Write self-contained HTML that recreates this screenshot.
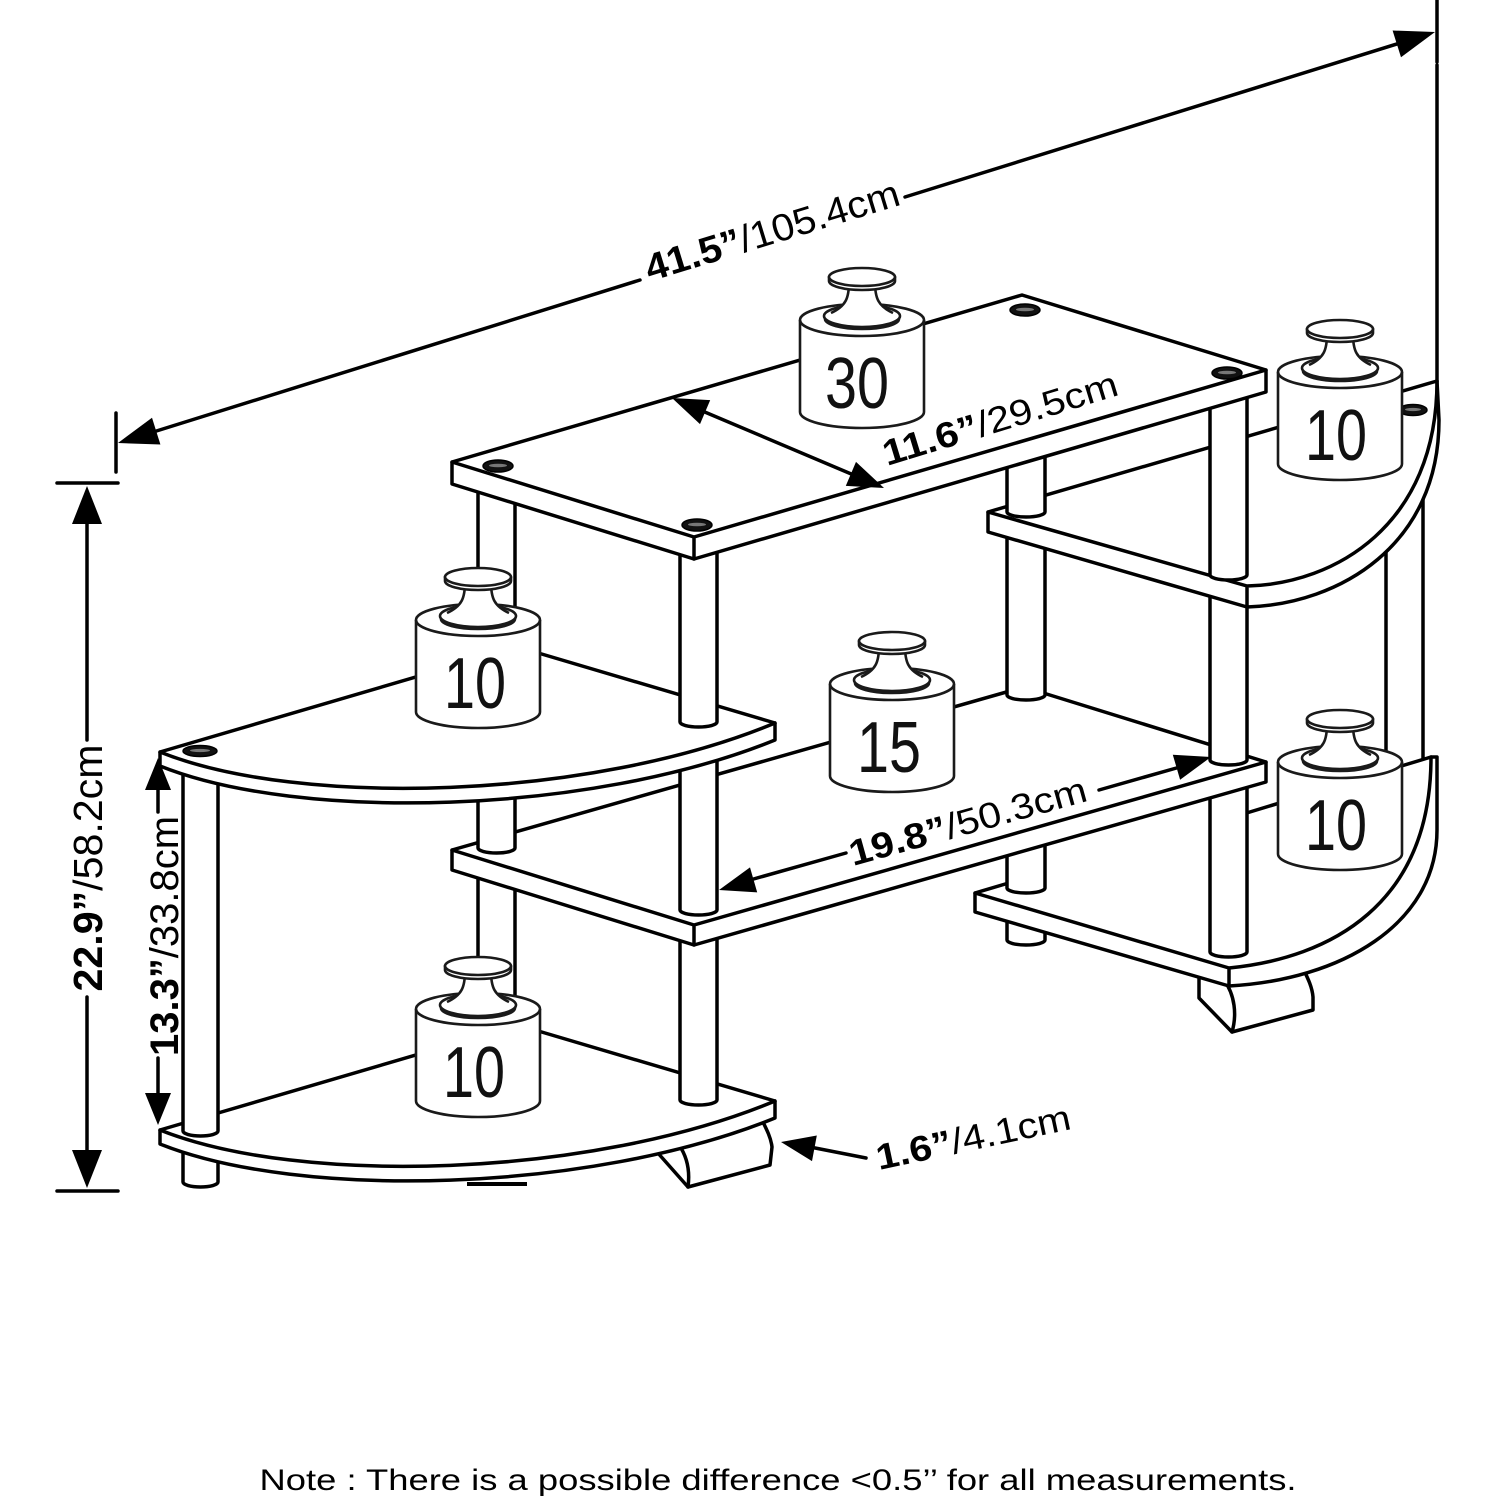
<!DOCTYPE html>
<html><head><meta charset="utf-8">
<style>
html,body{margin:0;padding:0;background:#fff;}
svg{display:block;}
.o{fill:#fff;stroke:#000;stroke-width:3.5;stroke-linejoin:round;stroke-linecap:round}
.f{fill:#fff;stroke:none}
.l{fill:none;stroke:#000;stroke-width:3.5;stroke-linejoin:round;stroke-linecap:round}
.wo{fill:#fff;stroke:#1a1a1a;stroke-width:2.6;stroke-linejoin:round}
.wl{fill:none;stroke:#1a1a1a;stroke-width:2.6}
.t{font-family:"Liberation Sans",sans-serif;fill:#000}
.wt{font-family:"Liberation Sans",sans-serif;fill:#111}
</style></head><body>
<svg width="1500" height="1500" viewBox="0 0 1500 1500" xmlns="http://www.w3.org/2000/svg">
<rect width="1500" height="1500" fill="#fff"/>

<!-- back-right post -->
<path class="o" d="M1386,430V788A18.5,4 0 0 0 1423,788V430"/>

<!-- right rocker foot & post C foot -->
<path class="o" d="M1199,975V998L1232,1032L1313,1010V997C1312,985 1306,975 1300,962"/>
<path class="l" d="M1224,980C1235,995 1237,1015 1232,1032"/>
<path class="o" d="M1007,915V940A19,5 0 0 0 1045,940V915"/>

<!-- bottom-right shelf -->
<path class="f" d="M975,893L1431,757L1437,757L1437,830C1437,925 1340,980 1229,986L975,912Z"/>
<path class="l" d="M1240,815L1431,757L1437,757L1437,830C1437,925 1340,980 1229,986L975,912L975,893L1012,882"/>
<path class="l" d="M975,893L1229,968C1330,958 1431,905 1431,757M1229,968V986"/>

<!-- posts C & D lower -->
<path class="o" d="M1007,835V888A19,5 0 0 0 1045,888V835"/>
<path class="o" d="M1210,775V952A18.5,5 0 0 0 1247,952V775"/>

<!-- weight lower right -->
<g transform="translate(1340,710)">
<path class="wo" d="M-62,52V144A62,16 0 0 0 62,144V52A62,16 0 0 0 -62,52Z"/>
<path class="wl" d="M-62,52A62,16 0 0 0 62,52"/>
<ellipse class="wo" cx="0" cy="48" rx="38" ry="11"/>
<path class="wl" d="M-37,51A37,10 0 0 0 37,51"/>
<path fill="#fff" d="M-13,14C-13,30 -16,38 -31,45L31,45C16,38 13,30 13,14Z"/>
<path class="wl" d="M-13,14C-13,30 -16,38 -31,45M13,14C13,30 16,38 31,45"/>
<path class="wo" d="M-33,9V13A33,9 0 0 0 33,13V9Z"/>
<ellipse class="wo" cx="0" cy="9" rx="33" ry="9"/>
<text class="wt" x="-4" y="140" font-size="72" text-anchor="middle" textLength="62" lengthAdjust="spacingAndGlyphs">10</text>
</g>

<!-- left rocker & front-left leg foot -->
<path class="o" d="M655,1138L657,1152L688,1187L770,1165L772,1147C771,1138 767,1130 761,1118"/>
<path class="l" d="M679,1145C688,1158 690,1172 688,1187"/>
<path class="o" d="M183,1140V1182A17.5,5 0 0 0 218,1182V1140"/>

<!-- bottom-left shelf -->
<path class="o" d="M160,1130L518,1025L775,1101L775,1118C590,1193 300,1200 160,1144Z"/>
<path class="l" d="M160,1130C300,1186 590,1178 775,1101"/>
<path d="M467,1184H527" stroke="#000" stroke-width="4"/>

<!-- posts on bottom-left shelf -->
<path class="o" d="M478,860V1050A18.5,5 0 0 0 515,1050V860"/>
<path class="o" d="M680,930V1100A18.5,5 0 0 0 717,1100V930"/>
<path class="o" d="M183,765V1131A17.5,5 0 0 0 218,1131V765"/>

<!-- weight lower left -->
<g transform="translate(478,957)">
<path class="wo" d="M-62,52V144A62,16 0 0 0 62,144V52A62,16 0 0 0 -62,52Z"/>
<path class="wl" d="M-62,52A62,16 0 0 0 62,52"/>
<ellipse class="wo" cx="0" cy="48" rx="38" ry="11"/>
<path class="wl" d="M-37,51A37,10 0 0 0 37,51"/>
<path fill="#fff" d="M-13,14C-13,30 -16,38 -31,45L31,45C16,38 13,30 13,14Z"/>
<path class="wl" d="M-13,14C-13,30 -16,38 -31,45M13,14C13,30 16,38 31,45"/>
<path class="wo" d="M-33,9V13A33,9 0 0 0 33,13V9Z"/>
<ellipse class="wo" cx="0" cy="9" rx="33" ry="9"/>
<text class="wt" x="-4" y="140" font-size="72" text-anchor="middle" textLength="62" lengthAdjust="spacingAndGlyphs">10</text>
</g>

<!-- middle shelf -->
<path class="o" d="M452,850L1024,687L1266,762L1266,782L694,945L452,870Z"/>
<path class="l" d="M452,850L694,925L1266,762M694,925V945"/>

<!-- middle post segments -->
<path class="o" d="M478,770V848A18.5,5 0 0 0 515,848V770"/>
<path class="o" d="M680,735V910A18.5,5 0 0 0 717,910V735"/>
<path class="o" d="M1007,525V695A19,5 0 0 0 1045,695V525"/>
<path class="o" d="M1210,595V760A18.5,5 0 0 0 1247,760V595"/>

<!-- weight 15 -->
<g transform="translate(892,632)">
<path class="wo" d="M-62,52V144A62,16 0 0 0 62,144V52A62,16 0 0 0 -62,52Z"/>
<path class="wl" d="M-62,52A62,16 0 0 0 62,52"/>
<ellipse class="wo" cx="0" cy="48" rx="38" ry="11"/>
<path class="wl" d="M-37,51A37,10 0 0 0 37,51"/>
<path fill="#fff" d="M-13,14C-13,30 -16,38 -31,45L31,45C16,38 13,30 13,14Z"/>
<path class="wl" d="M-13,14C-13,30 -16,38 -31,45M13,14C13,30 16,38 31,45"/>
<path class="wo" d="M-33,9V13A33,9 0 0 0 33,13V9Z"/>
<ellipse class="wo" cx="0" cy="9" rx="33" ry="9"/>
<text class="wt" x="-3" y="140" font-size="72" text-anchor="middle" textLength="64" lengthAdjust="spacingAndGlyphs">15</text>
</g>

<!-- upper-right shelf -->
<path class="o" d="M988,512L1437,381L1439,420C1439,545 1340,604 1247,607L988,532Z"/>
<path class="l" d="M988,512L1247,586C1335,584 1437,525 1437,381M1247,586V607"/>
<g transform="translate(1413,410)"><ellipse rx="14" ry="5.5" fill="#111" stroke="#000" stroke-width="1.5"/><ellipse rx="8" ry="1.6" cy="-0.5" fill="#777"/></g>

<!-- upper-left shelf -->
<path class="o" d="M160,752L518,647L775,723L775,740C590,815 300,822 160,766Z"/>
<path class="l" d="M160,752C300,808 590,800 775,723"/>
<g transform="translate(200,751)"><ellipse rx="17" ry="5.5" fill="#111" stroke="#000" stroke-width="1.5"/><ellipse rx="10" ry="1.6" cy="-0.5" fill="#777"/></g>

<!-- top post segments -->
<path class="o" d="M478,484V655A18.5,5 0 0 0 515,655V484"/>
<path class="o" d="M680,550V722A18.5,5 0 0 0 717,722V550"/>
<path class="o" d="M1007,452V512A19,5 0 0 0 1045,512V452"/>
<path class="o" d="M1210,388V575A18.5,5 0 0 0 1247,575V388"/>

<!-- weight upper left -->
<g transform="translate(478,568)">
<path class="wo" d="M-62,52V144A62,16 0 0 0 62,144V52A62,16 0 0 0 -62,52Z"/>
<path class="wl" d="M-62,52A62,16 0 0 0 62,52"/>
<ellipse class="wo" cx="0" cy="48" rx="38" ry="11"/>
<path class="wl" d="M-37,51A37,10 0 0 0 37,51"/>
<path fill="#fff" d="M-13,14C-13,30 -16,38 -31,45L31,45C16,38 13,30 13,14Z"/>
<path class="wl" d="M-13,14C-13,30 -16,38 -31,45M13,14C13,30 16,38 31,45"/>
<path class="wo" d="M-33,9V13A33,9 0 0 0 33,13V9Z"/>
<ellipse class="wo" cx="0" cy="9" rx="33" ry="9"/>
<text class="wt" x="-3" y="140" font-size="72" text-anchor="middle" textLength="62" lengthAdjust="spacingAndGlyphs">10</text>
</g>

<!-- weight upper right -->
<g transform="translate(1340,320)">
<path class="wo" d="M-62,52V144A62,16 0 0 0 62,144V52A62,16 0 0 0 -62,52Z"/>
<path class="wl" d="M-62,52A62,16 0 0 0 62,52"/>
<ellipse class="wo" cx="0" cy="48" rx="38" ry="11"/>
<path class="wl" d="M-37,51A37,10 0 0 0 37,51"/>
<path fill="#fff" d="M-13,14C-13,30 -16,38 -31,45L31,45C16,38 13,30 13,14Z"/>
<path class="wl" d="M-13,14C-13,30 -16,38 -31,45M13,14C13,30 16,38 31,45"/>
<path class="wo" d="M-33,9V13A33,9 0 0 0 33,13V9Z"/>
<ellipse class="wo" cx="0" cy="9" rx="33" ry="9"/>
<text class="wt" x="-4" y="140" font-size="72" text-anchor="middle" textLength="62" lengthAdjust="spacingAndGlyphs">10</text>
</g>

<!-- top shelf -->
<path class="o" d="M452,462L1022,295L1266,370L1266,392L694,559L452,484Z"/>
<path class="l" d="M452,462L694,537L1266,370M694,537V559"/>
<g transform="translate(498,466)"><ellipse rx="15" ry="6" fill="#111" stroke="#000" stroke-width="1.5"/><ellipse rx="9" ry="1.8" cy="-0.5" fill="#777"/></g>
<g transform="translate(697,525)"><ellipse rx="15" ry="6" fill="#111" stroke="#000" stroke-width="1.5"/><ellipse rx="9" ry="1.8" cy="-0.5" fill="#777"/></g>
<g transform="translate(1227,373)"><ellipse rx="15" ry="6" fill="#111" stroke="#000" stroke-width="1.5"/><ellipse rx="9" ry="1.8" cy="-0.5" fill="#777"/></g>
<g transform="translate(1025,310)"><ellipse rx="15" ry="6" fill="#111" stroke="#000" stroke-width="1.5"/><ellipse rx="9" ry="1.8" cy="-0.5" fill="#777"/></g>

<!-- weight 30 -->
<g transform="translate(862,268)">
<path class="wo" d="M-62,52V144A62,16 0 0 0 62,144V52A62,16 0 0 0 -62,52Z"/>
<path class="wl" d="M-62,52A62,16 0 0 0 62,52"/>
<ellipse class="wo" cx="0" cy="48" rx="38" ry="11"/>
<path class="wl" d="M-37,51A37,10 0 0 0 37,51"/>
<path fill="#fff" d="M-13,14C-13,30 -16,38 -31,45L31,45C16,38 13,30 13,14Z"/>
<path class="wl" d="M-13,14C-13,30 -16,38 -31,45M13,14C13,30 16,38 31,45"/>
<path class="wo" d="M-33,9V13A33,9 0 0 0 33,13V9Z"/>
<ellipse class="wo" cx="0" cy="9" rx="33" ry="9"/>
<text class="wt" x="-5" y="140" font-size="72" text-anchor="middle" textLength="64" lengthAdjust="spacingAndGlyphs">30</text>
</g>

<!-- ===== dimensions ===== -->
<!-- 41.5 -->
<path class="l" d="M116,413V472M1437,0V62M1437,65V381"/>
<path class="l" d="M150,433L640,280M905,197L1400,43"/>
<polygon points="118,443 160.4,444.5 152,417.7" fill="#000"/>
<polygon points="1435,32 1401,57.3 1392.6,30.5" fill="#000"/>
<text class="t" transform="translate(776,243) rotate(-17)" x="0" y="0" text-anchor="middle" font-size="38" textLength="264" lengthAdjust="spacingAndGlyphs"><tspan font-weight="bold">41.5”</tspan>/105.4cm</text>

<!-- 22.9 -->
<path class="l" d="M57,483H118M57,1191H118M87,520V740M87,997V1155"/>
<polygon points="87,486 72,524 102,524" fill="#000"/>
<polygon points="87,1188 72,1150 102,1150" fill="#000"/>
<text class="t" transform="translate(87,868) rotate(-90)" x="0" y="15" text-anchor="middle" font-size="41" textLength="247" lengthAdjust="spacingAndGlyphs"><tspan font-weight="bold">22.9”</tspan>/58.2cm</text>

<!-- 13.3 -->
<path class="l" d="M158,788V812M158,1058V1095"/>
<polygon points="158,758 145,790 171,790" fill="#000"/>
<polygon points="158,1125 145,1093 171,1093" fill="#000"/>
<text class="t" transform="translate(162,936) rotate(-90)" x="0" y="16" text-anchor="middle" font-size="40" textLength="240" lengthAdjust="spacingAndGlyphs"><tspan font-weight="bold">13.3”</tspan>/33.8cm</text>

<!-- 11.6 -->
<path class="l" d="M700,410L856,476"/>
<polygon points="672,398 700,424.1 710.2,400.1" fill="#000"/>
<polygon points="884,488 845.8,485.9 856,461.9" fill="#000"/>
<text class="t" transform="translate(887,466) rotate(-17)" x="0" y="0" font-size="36" textLength="244" lengthAdjust="spacingAndGlyphs"><tspan font-weight="bold">11.6”</tspan>/29.5cm</text>

<!-- 19.8 -->
<path class="l" d="M750,880L846,853M1099,790L1180,767"/>
<polygon points="719,890 757.2,892.4 750,867.4" fill="#000"/>
<polygon points="1211,757 1180.1,779.7 1172.8,754.7" fill="#000"/>
<text class="t" transform="translate(853,866) rotate(-15.5)" x="0" y="0" font-size="36" textLength="245" lengthAdjust="spacingAndGlyphs"><tspan font-weight="bold">19.8”</tspan>/50.3cm</text>

<!-- 1.6 -->
<path class="l" d="M810,1147L866,1158"/>
<polygon points="781,1142 812,1161.1 816.8,1135.5" fill="#000"/>
<text class="t" transform="translate(879,1170) rotate(-12)" x="0" y="0" font-size="36" textLength="198" lengthAdjust="spacingAndGlyphs"><tspan font-weight="bold">1.6”</tspan>/4.1cm</text>

<!-- note -->
<text class="t" x="778" y="1490" text-anchor="middle" font-size="30" fill="#222" textLength="1037" lengthAdjust="spacingAndGlyphs">Note : There is a possible difference &lt;0.5’’ for all measurements.</text>
</svg>
</body></html>
